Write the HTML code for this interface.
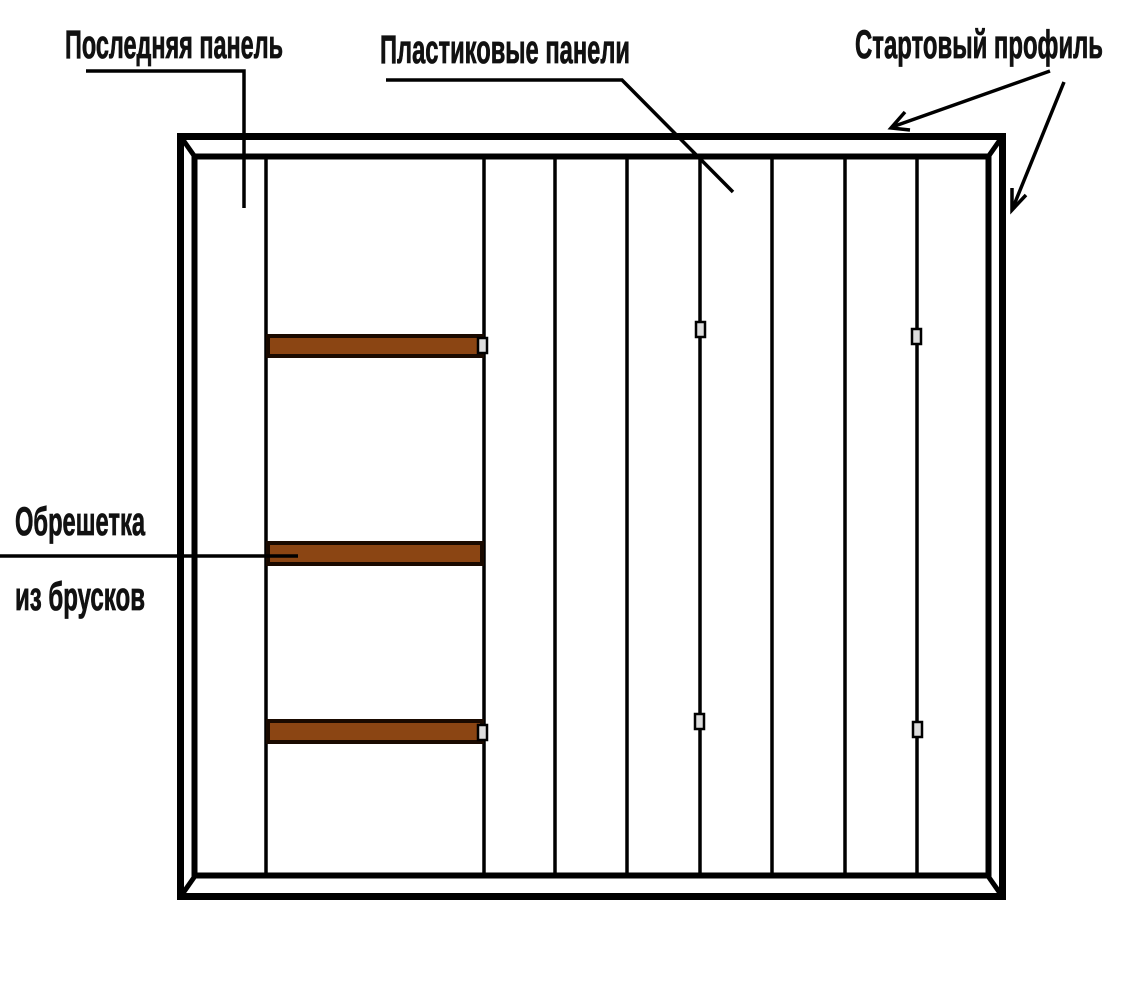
<!DOCTYPE html>
<html><head><meta charset="utf-8"><style>html,body{margin:0;padding:0;background:#fff}svg{display:block}</style></head>
<body>
<svg width="1123" height="1000" viewBox="0 0 1123 1000" xmlns="http://www.w3.org/2000/svg">
<rect width="1123" height="1000" fill="#fff"/>
<g font-family="Liberation Sans, DejaVu Sans, sans-serif" font-weight="bold" font-size="40" fill="#111" stroke="#111" stroke-width="0.8">
<text x="65" y="58" textLength="218" lengthAdjust="spacingAndGlyphs">Последняя панель</text>
<text x="380" y="63" textLength="250" lengthAdjust="spacingAndGlyphs">Пластиковые панели</text>
<text x="855" y="58" textLength="248" lengthAdjust="spacingAndGlyphs">Стартовый профиль</text>
<text x="15" y="535" textLength="130" lengthAdjust="spacingAndGlyphs">Обрешетка</text>
<text x="15" y="610" textLength="130" lengthAdjust="spacingAndGlyphs">из брусков</text>
</g>
<g fill="none" stroke="#000">
<rect x="180.5" y="136.5" width="822" height="760" stroke-width="7"/>
<rect x="194.5" y="156.5" width="794" height="719" stroke-width="6"/>
<line x1="181" y1="137" x2="195" y2="157" stroke-width="5"/>
<line x1="1002" y1="137" x2="988" y2="157" stroke-width="5"/>
<line x1="181" y1="896" x2="195" y2="876" stroke-width="5"/>
<line x1="1002" y1="896" x2="988" y2="876" stroke-width="5"/>
<g stroke-width="3.5">
<line x1="266" y1="158" x2="266" y2="874"/>
<line x1="484" y1="158" x2="484" y2="874"/>
<line x1="555" y1="158" x2="555" y2="874"/>
<line x1="627" y1="158" x2="627" y2="874"/>
<line x1="700" y1="158" x2="700" y2="874"/>
<line x1="772" y1="158" x2="772" y2="874"/>
<line x1="845" y1="158" x2="845" y2="874"/>
<line x1="917" y1="158" x2="917" y2="874"/>
</g>
</g>
<g fill="#8b4513" stroke="#1a0a00" stroke-width="4">
<rect x="268" y="336" width="214" height="20"/>
<rect x="268" y="543" width="214" height="21"/>
<rect x="268" y="721" width="214" height="21"/>
</g>
<g fill="#ddd" stroke="#000" stroke-width="2.5">
<rect x="478" y="338" width="9" height="15"/>
<rect x="696" y="322" width="9" height="15"/>
<rect x="912" y="329" width="9" height="15"/>
<rect x="478" y="725" width="9" height="15"/>
<rect x="695" y="714" width="9" height="15"/>
<rect x="913" y="722" width="9" height="15"/>
</g>
<g fill="none" stroke="#000" stroke-width="3.5">
<polyline points="86,71 244,71 244,208"/>
<polyline points="386,80 622,80 733,192"/>
<line x1="0" y1="556" x2="298" y2="556"/>
<line x1="1050" y1="71" x2="892" y2="127"/>
<polyline points="905,112 891,128 910,130"/>
<line x1="1064" y1="82" x2="1012" y2="210"/>
<polyline points="1012,188 1012,210 1026,195"/>
</g>
</svg>
</body></html>
